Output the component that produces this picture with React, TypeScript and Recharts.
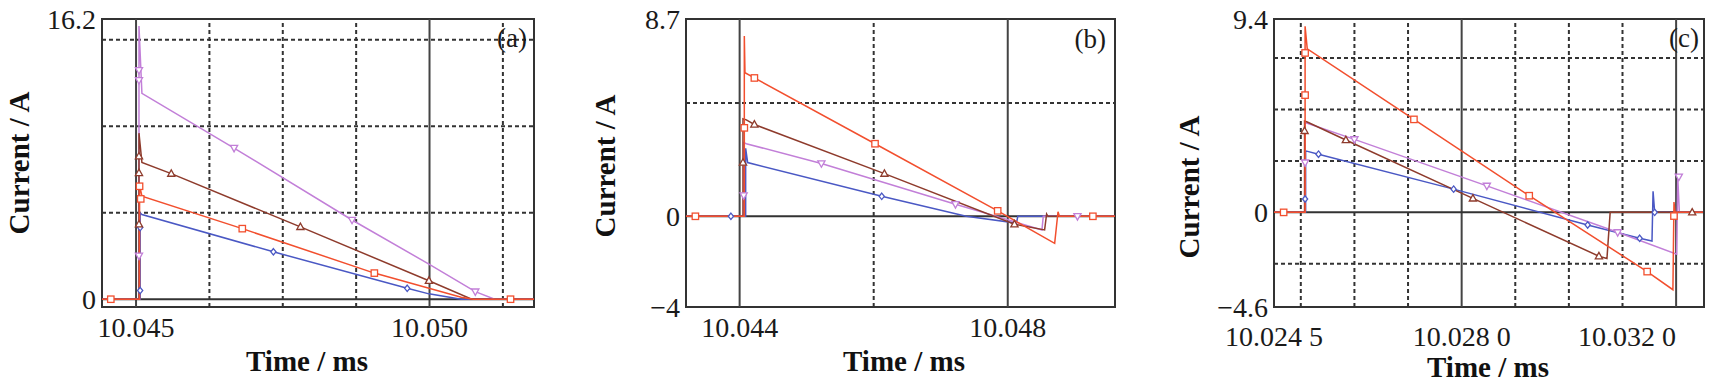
import React from 'react';
import {
  ComposedChart,
  Line,
  Scatter,
  XAxis,
  YAxis,
  ReferenceLine,
  ReferenceArea,
} from 'recharts';

type P = [number, number];

// ---- panel (a) ----
const aRed: P[] = [
  [10.0444, 0], [10.04506, 0], [10.04506, 6.6], [10.0451, 5.96], [10.04681, 4.08],
  [10.04906, 1.51], [10.05054, 0.11], [10.05075, 0], [10.0518, 0],
];
const aRedMk: P[] = [
  [10.04457, 0], [10.04506, 6.53], [10.04508, 5.8], [10.04681, 4.08], [10.04906, 1.51], [10.05138, 0],
];
const aBrown: P[] = [
  [10.0444, 0], [10.04505, 0], [10.04505, 9.6], [10.0451, 7.91], [10.0456, 7.26],
  [10.0478, 4.18], [10.04999, 1.07], [10.05072, 0], [10.0518, 0],
];
const aBrownMk: P[] = [
  [10.04505, 8.26], [10.04505, 7.3], [10.04505, 4.33], [10.0456, 7.26], [10.0478, 4.18], [10.04999, 1.07],
];
const aViolet: P[] = [
  [10.0444, 0], [10.04505, 0], [10.04505, 15.8], [10.0451, 11.9], [10.04667, 8.74],
  [10.04868, 4.58], [10.04999, 2.03], [10.05078, 0.44], [10.05111, 0], [10.0518, 0],
];
const aVioletMk: P[] = [
  [10.04505, 13.24], [10.04505, 12.66], [10.04505, 2.51], [10.04667, 8.74], [10.04868, 4.58], [10.05078, 0.44],
];
const aBlue: P[] = [
  [10.0444, 0], [10.04507, 0], [10.04507, 5.0], [10.0451, 4.9], [10.04734, 2.74],
  [10.04962, 0.63], [10.04999, 0.31], [10.05054, 0], [10.0518, 0],
];
const aBlueMk: P[] = [[10.04507, 0.5], [10.04507, 4.14], [10.04734, 2.74], [10.04962, 0.63]];

const aXTicks = [10.045, 10.05];
const aXLabels = ['10.045', '10.050'];
const aYTicks = [0, 16.2];
const aYLabels = ['0', '16.2'];
const aXMajor = [10.045, 10.05];
const aXMinor = [10.04625, 10.0475, 10.04875, 10.05125];
const aYMajor = [0];
const aYMinor = [5, 10, 15];

// ---- panel (b) ----
const bRed: P[] = [
  [10.0432, 0], [10.04407, 0], [10.04407, 7.95], [10.04408, 6.33], [10.04422, 6.1],
  [10.04602, 3.2], [10.04785, 0.24], [10.0487, -1.19], [10.04875, 0.2], [10.04877, 0], [10.0496, 0],
];
const bRedMk: P[] = [
  [10.04334, 0], [10.04407, 3.9], [10.04422, 6.1], [10.04602, 3.2], [10.04785, 0.24], [10.04927, 0],
];
const bBrown: P[] = [
  [10.0432, 0], [10.04405, 0], [10.04405, 4.3], [10.0441, 4.25], [10.04422, 4.05],
  [10.04616, 1.88], [10.0481, -0.35], [10.04855, -0.6], [10.04858, 0.1], [10.0486, 0], [10.0496, 0],
];
const bBrownMk: P[] = [[10.04405, 2.37], [10.04422, 4.05], [10.04616, 1.88], [10.0481, -0.35]];
const bViolet: P[] = [
  [10.0432, 0], [10.04406, 0], [10.04406, 3.25], [10.0441, 3.2], [10.04522, 2.33],
  [10.04722, 0.53], [10.04851, -0.6], [10.04853, 0], [10.0496, 0],
];
const bVioletMk: P[] = [[10.04406, 0.92], [10.04522, 2.33], [10.04722, 0.53], [10.04904, 0]];
const bBlue: P[] = [
  [10.0432, 0], [10.04409, 0], [10.04409, 3.0], [10.04412, 2.37], [10.04612, 0.88],
  [10.04738, 0], [10.04813, -0.3], [10.04815, 0], [10.0496, 0],
];
const bBlueMk: P[] = [[10.04387, 0], [10.04612, 0.88]];

const bXTicks = [10.044, 10.048];
const bXLabels = ['10.044', '10.048'];
const bYTicks = [-4, 0, 8.7];
const bYLabels = ['\u22124', '0', '8.7'];
const bXMajor = [10.044, 10.048];
const bXMinor = [10.046];
const bYMajor = [0];
const bYMinor = [5];

// ---- panel (c) ----
const cRed: P[] = [
  [10.0245, 0], [10.02508, 0], [10.02508, 9.05], [10.02512, 7.95], [10.02711, 4.52],
  [10.02926, 0.81], [10.03146, -2.88], [10.03194, -3.76], [10.03196, 0.5], [10.03198, 0], [10.0325, 0],
];
const cRedMk: P[] = [
  [10.02468, 0], [10.02508, 5.7], [10.02508, 7.75], [10.02711, 4.52], [10.02926, 0.81],
  [10.03146, -2.88], [10.03196, -0.18],
];
const cBrown: P[] = [
  [10.0245, 0], [10.02507, 0], [10.02507, 4.44], [10.02512, 4.39], [10.02584, 3.52],
  [10.02821, 0.68], [10.03056, -2.13], [10.03071, -2.24], [10.03077, 0], [10.0325, 0],
];
const cBrownMk: P[] = [[10.02507, 3.96], [10.02584, 3.52], [10.02821, 0.68], [10.03056, -2.13], [10.0323, 0]];
const cViolet: P[] = [
  [10.0245, 0], [10.02508, 0], [10.02508, 4.36], [10.02512, 4.33], [10.026, 3.55],
  [10.02847, 1.29], [10.03091, -0.97], [10.03201, -2.03], [10.03203, 1.76], [10.03206, 0], [10.0325, 0],
];
const cVioletMk: P[] = [[10.02508, 2.42], [10.026, 3.55], [10.02847, 1.29], [10.03091, -0.97], [10.03205, 1.73]];
const cBlue: P[] = [
  [10.0245, 0], [10.02509, 0], [10.02509, 2.99], [10.02533, 2.83], [10.02785, 1.13],
  [10.03035, -0.61], [10.03132, -1.26], [10.03155, -1.39], [10.03157, 1.03], [10.0316, 0], [10.0325, 0],
];
const cBlueMk: P[] = [
  [10.02508, 0.65], [10.02533, 2.83], [10.02785, 1.13], [10.03035, -0.61], [10.03132, -1.26], [10.0316, 0],
];

const cXTicks = [10.0245, 10.028, 10.032];
const cXLabels = ['10.024 5', '10.028 0', '10.032 0'];
const cYTicks = [-4.6, 0, 9.4];
const cYLabels = ['\u22124.6', '0', '9.4'];
const cXMajor = [10.028, 10.032];
const cXMinor = [10.025, 10.026, 10.027, 10.029, 10.03, 10.031];
const cYMajor = [0];
const cYMinor = [-2.5, 2.5, 5, 7.5];

const FONT = "'Liberation Serif', 'DejaVu Serif', serif";
const RED = '#f24f2e';
const BROWN = '#8e3b2c';
const VIOLET = '#c27fd8';
const BLUE = '#4a58c4';
const INK = '#333';

const toPts = (a: P[]) => a.map(([t, v]) => ({ t, v }));

type Shape = 'square' | 'up' | 'down' | 'diamond';

function Marker({ cx, cy, shape, color }: { cx?: number; cy?: number; shape: Shape; color: string }) {
  if (cx == null || cy == null) return null;
  const s = 3.2;
  const common = { fill: '#fff', stroke: color, strokeWidth: 1.3 };
  if (shape === 'square') return <rect x={cx - s} y={cy - s} width={2 * s} height={2 * s} {...common} />;
  if (shape === 'up')
    return <polygon points={`${cx},${cy - s - 0.6} ${cx + s + 0.4},${cy + s - 0.6} ${cx - s - 0.4},${cy + s - 0.6}`} {...common} />;
  if (shape === 'down')
    return <polygon points={`${cx},${cy + s + 0.6} ${cx + s + 0.4},${cy - s + 0.6} ${cx - s - 0.4},${cy - s + 0.6}`} {...common} />;
  return <polygon points={`${cx},${cy - s} ${cx + s - 0.6},${cy} ${cx},${cy + s} ${cx - s + 0.6},${cy}`} {...common} />;
}

interface Series {
  line: P[];
  marks: P[];
  color: string;
  shape: Shape;
}

interface PanelProps {
  left: number;
  width: number;
  plotLeft: number;
  right: number;
  xDomain: [number, number];
  yDomain: [number, number];
  xTicks: number[];
  xLabels: string[];
  xAnchors?: string[];
  xTickGap: number;
  yTicks: number[];
  yLabels: string[];
  xMajor: number[];
  xMinor: number[];
  yMajor: number[];
  yMinor: number[];
  series: Series[];
}

function Panel(p: PanelProps) {
  const renderXTick = (props: any) => {
    const { x, y, index } = props;
    return (
      <text
        key={`xt-${index}`}
        x={x}
        y={y}
        dy="0.71em"
        textAnchor={p.xAnchors?.[index] ?? 'middle'}
        style={{ fontFamily: FONT, fontSize: 28 }}
        fill="#1a1a1a"
      >
        {p.xLabels[index]}
      </text>
    );
  };

  const renderYTick = (props: any) => {
    const { x, y, index } = props;
    return (
      <text
        key={`yt-${index}`}
        x={x}
        y={y}
        dy="0.35em"
        textAnchor="end"
        style={{ fontFamily: FONT, fontSize: 28 }}
        fill="#1a1a1a"
      >
        {p.yLabels[index]}
      </text>
    );
  };

  return (
    <div style={{ position: 'absolute', left: p.left, top: 0 }}>
      <ComposedChart width={p.width} height={386} margin={{ top: 19, right: p.right, bottom: 0, left: 0 }}>
        <XAxis
          type="number"
          dataKey="t"
          domain={p.xDomain}
          allowDataOverflow
          ticks={p.xTicks}
          interval={0}
          axisLine={false}
          tickLine={false}
          tickSize={0}
          tickMargin={p.xTickGap}
          height={79}
          tick={renderXTick}
        />
        <YAxis
          type="number"
          dataKey="v"
          domain={p.yDomain}
          allowDataOverflow
          ticks={p.yTicks}
          interval={0}
          axisLine={false}
          tickLine={false}
          tickSize={0}
          tickMargin={6}
          width={p.plotLeft}
          tick={renderYTick}
        />
        {p.xMinor.map((x) => (
          <ReferenceLine key={`xm${x}`} x={x} stroke={INK} strokeWidth={2} strokeDasharray="4 3" />
        ))}
        {p.yMinor.map((y) => (
          <ReferenceLine key={`ym${y}`} y={y} stroke={INK} strokeWidth={2} strokeDasharray="4 3" />
        ))}
        {p.xMajor.map((x) => (
          <ReferenceLine key={`xM${x}`} x={x} stroke="#444" strokeWidth={2} />
        ))}
        {p.yMajor.map((y) => (
          <ReferenceLine key={`yM${y}`} y={y} stroke="#333" strokeWidth={2} />
        ))}
        <ReferenceArea
          x1={p.xDomain[0]}
          x2={p.xDomain[1]}
          y1={p.yDomain[0]}
          y2={p.yDomain[1]}
          fill="none"
          stroke={INK}
          strokeWidth={2}
          ifOverflow="visible"
        />
        {p.series.map((s, i) => (
          <Line
            key={`l${i}`}
            data={toPts(s.line)}
            dataKey="v"
            type="linear"
            stroke={s.color}
            strokeWidth={1.5}
            dot={false}
            activeDot={false}
            isAnimationActive={false}
          />
        ))}
        {p.series.map((s, i) => (
          <Scatter
            key={`s${i}`}
            data={toPts(s.marks)}
            dataKey="v"
            isAnimationActive={false}
            shape={(props: any) => <Marker cx={props.cx} cy={props.cy} shape={s.shape} color={s.color} />}
          />
        ))}
      </ComposedChart>
    </div>
  );
}

const yTitles = [
  { x: 29, y: 163 },
  { x: 615, y: 166 },
  { x: 1199, y: 187 },
];
const xTitles = [
  { x: 307, y: 371 },
  { x: 904, y: 371 },
  { x: 1488, y: 377 },
];
const tags = [
  { x: 527, y: 47, text: '(a)' },
  { x: 1106, y: 48, text: '(b)' },
  { x: 1699, y: 47, text: '(c)' },
];

const titleStyle = { fontFamily: FONT, fontWeight: 700, fontSize: 29 } as const;

export default function App() {
  return (
    <div
      style={{
        position: 'absolute',
        left: 0,
        top: 0,
        width: 1714,
        height: 386,
        background: '#fff',
        overflow: 'hidden',
      }}
    >
      <Panel
        left={0}
        width={560}
        plotLeft={102}
        right={26}
        xDomain={[10.04442, 10.05178]}
        yDomain={[-0.45, 16.2]}
        xTicks={aXTicks}
        xLabels={aXLabels}
        xTickGap={10}
        yTicks={aYTicks}
        yLabels={aYLabels}
        xMajor={aXMajor}
        xMinor={aXMinor}
        yMajor={aYMajor}
        yMinor={aYMinor}
        series={[
          { line: aBlue, marks: aBlueMk, color: BLUE, shape: 'diamond' },
          { line: aViolet, marks: aVioletMk, color: VIOLET, shape: 'down' },
          { line: aBrown, marks: aBrownMk, color: BROWN, shape: 'up' },
          { line: aRed, marks: aRedMk, color: RED, shape: 'square' },
        ]}
      />
      <Panel
        left={570}
        width={560}
        plotLeft={116}
        right={15}
        xDomain={[10.0432, 10.0496]}
        yDomain={[-4, 8.7]}
        xTicks={bXTicks}
        xLabels={bXLabels}
        xTickGap={10}
        yTicks={bYTicks}
        yLabels={bYLabels}
        xMajor={bXMajor}
        xMinor={bXMinor}
        yMajor={bYMajor}
        yMinor={bYMinor}
        series={[
          { line: bBlue, marks: bBlueMk, color: BLUE, shape: 'diamond' },
          { line: bViolet, marks: bVioletMk, color: VIOLET, shape: 'down' },
          { line: bBrown, marks: bBrownMk, color: BROWN, shape: 'up' },
          { line: bRed, marks: bRedMk, color: RED, shape: 'square' },
        ]}
      />
      <Panel
        left={1150}
        width={564}
        plotLeft={124}
        right={10}
        xDomain={[10.0245, 10.03252]}
        yDomain={[-4.6, 9.4]}
        xTicks={cXTicks}
        xLabels={cXLabels}
        xAnchors={['middle', 'middle', 'end']}
        xTickGap={19}
        yTicks={cYTicks}
        yLabels={cYLabels}
        xMajor={cXMajor}
        xMinor={cXMinor}
        yMajor={cYMajor}
        yMinor={cYMinor}
        series={[
          { line: cBlue, marks: cBlueMk, color: BLUE, shape: 'diamond' },
          { line: cViolet, marks: cVioletMk, color: VIOLET, shape: 'down' },
          { line: cBrown, marks: cBrownMk, color: BROWN, shape: 'up' },
          { line: cRed, marks: cRedMk, color: RED, shape: 'square' },
        ]}
      />
      <svg
        width={1714}
        height={386}
        style={{ position: 'absolute', left: 0, top: 0, pointerEvents: 'none' }}
      >
        {yTitles.map((t, i) => (
          <text
            key={`yt${i}`}
            transform={`translate(${t.x},${t.y}) rotate(-90)`}
            textAnchor="middle"
            style={titleStyle}
            fill="#111"
          >
            Current / A
          </text>
        ))}
        {xTitles.map((t, i) => (
          <text key={`xt${i}`} x={t.x} y={t.y} textAnchor="middle" style={titleStyle} fill="#111">
            Time / ms
          </text>
        ))}
        {tags.map((t) => (
          <text
            key={t.text}
            x={t.x}
            y={t.y}
            textAnchor="end"
            style={{ fontFamily: FONT, fontSize: 27 }}
            fill="#1a1a1a"
          >
            {t.text}
          </text>
        ))}
      </svg>
    </div>
  );
}
